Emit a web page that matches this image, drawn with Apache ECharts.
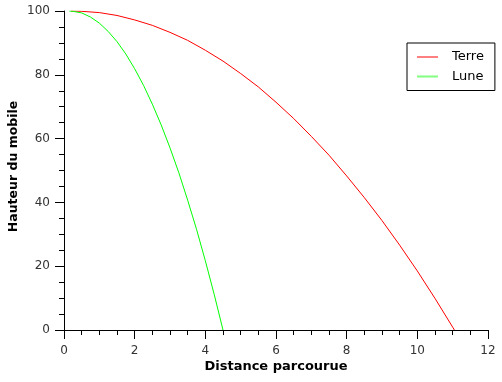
<!DOCTYPE html>
<html>
<head>
<meta charset="utf-8">
<script src="https://cdn.jsdelivr.net/npm/echarts@6/dist/echarts.min.js"></script>
<style>html,body{margin:0;padding:0;background:#fff}#c{width:502px;height:382px}</style>
</head>
<body>
<div id="c"></div>
<script>
var terreX = [0.2,0.5,1,1.5,2,2.5,3,3.5,4,4.5,5,5.5,6,6.5,7,7.5,8,8.5,9,9.5,10,10.5,11,11.05];
var terreY = [100,99.9,99.5,98.6,97.2,95.5,93.3,90.8,87.7,84.3,80.4,76.2,71.4,66.3,60.7,54.8,48.3,41.5,34.3,26.6,18.5,9.9,0.9,0];
var luneX = [0.15,0.25,0.5,0.75,1,1.25,1.5,1.75,2,2.25,2.5,2.75,3,3.25,3.5,3.75,4,4.25,4.5];
var luneY = [100,99.9,99.4,98.1,96.2,93.6,90.4,86.5,81.9,76.7,70.8,64.3,57.1,49.3,40.7,31.6,21.7,11.2,0];
var seriesNames = ['Terre','Lune'];
var xTicks = {min:0,max:12,interval:2};
var yTicks = {min:0,max:100,interval:20};

function pairs(xs, ys){ return xs.map(function(x,i){return [x, ys[i]];}); }

var font = 'DejaVu Sans';
var chart = echarts.init(document.getElementById('c'));
chart.setOption({
  animation:false,
  textStyle:{fontFamily:font},
  grid:{left:64,right:14,top:11,bottom:52,containLabel:false,outerBoundsMode:'none'},
  legend:{
    orient:'vertical', left:407, top:43,
    borderColor:'#000', borderWidth:1, borderRadius:0,
    padding:[7,11,7,10],
    itemGap:5.5, itemWidth:21, itemHeight:2, icon:'rect',
    textStyle:{fontFamily:font,fontSize:13,color:'#000',lineHeight:14,padding:[0,0,0,9]},
    data:[{name:seriesNames[0],itemStyle:{color:'#ff8080'}},{name:seriesNames[1],itemStyle:{color:'#80ff80'}}]
  },
  xAxis:{
    type:'value', min:xTicks.min, max:xTicks.max, interval:xTicks.interval,
    name:'Distance parcourue', nameLocation:'middle', nameGap:30, nameMoveOverlap:false,
    nameTextStyle:{fontFamily:font,fontSize:13,fontWeight:'bold',color:'#000'},
    axisLine:{show:true,onZero:false,lineStyle:{color:'#000',width:1}},
    axisTick:{show:true,length:9,lineStyle:{color:'#000'}},
    minorTick:{show:true,splitNumber:4,length:5,lineStyle:{color:'#000'}},
    splitLine:{show:false},
    axisLabel:{fontFamily:font,fontSize:12,color:'#333',margin:15}
  },
  yAxis:{
    type:'value', min:yTicks.min, max:yTicks.max, interval:yTicks.interval,
    name:'Hauteur du mobile', nameLocation:'middle', nameGap:44, nameMoveOverlap:false,
    nameTextStyle:{fontFamily:font,fontSize:12.5,fontWeight:'bold',color:'#000',padding:[0,0,0,8]},
    axisLine:{show:true,onZero:false,lineStyle:{color:'#000',width:1}},
    axisTick:{show:true,length:9,lineStyle:{color:'#000'}},
    minorTick:{show:true,splitNumber:4,length:5,lineStyle:{color:'#000'}},
    splitLine:{show:false},
    axisLabel:{fontFamily:font,fontSize:12,color:'#333',margin:14}
  },
  series:[
    {name:seriesNames[0],type:'line',data:pairs(terreX,terreY),showSymbol:false,symbol:'none',
     lineStyle:{color:'#ff0000',width:1},itemStyle:{color:'#ff0000'}},
    {name:seriesNames[1],type:'line',data:pairs(luneX,luneY),showSymbol:false,symbol:'none',
     lineStyle:{color:'#00ff00',width:1},itemStyle:{color:'#00ff00'}}
  ]
});
</script>
</body>
</html>
